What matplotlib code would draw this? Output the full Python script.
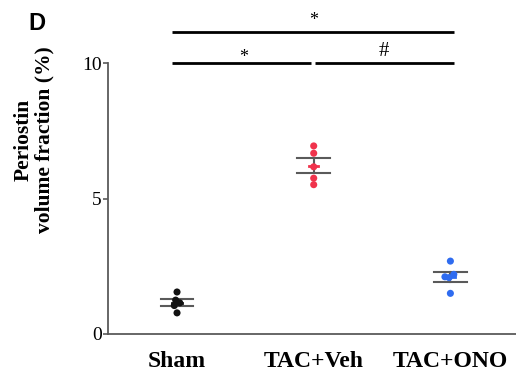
import matplotlib
matplotlib.use("Agg")
import matplotlib.pyplot as plt
import numpy as np

categories = ["Sham", "TAC+Veh", "TAC+ONO"]
sham = [1.55, 1.25, 1.15, 1.05, 0.78]
tac_veh = [6.94, 6.67, 6.17, 5.75, 5.51]
tac_ono = [2.69, 2.20, 2.11, 2.08, 1.50]
groups = [sham, tac_veh, tac_ono]
colors = ["#111111", "#f0334c", "#2f6cf0"]
jitter = [[0.0, -0.01, 0.02, -0.02, 0.0],
          [0.0, 0.0, 0.0, 0.0, 0.0],
          [0.0, 0.025, -0.04, -0.01, 0.0]]
yticks = [0, 5, 10]

plt.rcParams['font.family'] = ['Liberation Serif', 'DejaVu Serif']

fig = plt.figure(figsize=(5.16, 3.77), dpi=100)
ax = fig.add_axes([108/516, (377-334)/377, 408/516, (334-63)/377])

gray = "#5a5a5a"
hw = 0.12
for i, (vals, c, jit) in enumerate(zip(groups, colors, jitter)):
    vals = np.array(vals)
    m = vals.mean()
    sem = vals.std(ddof=1) / np.sqrt(len(vals))
    ax.plot([i - hw, i + hw], [m + sem, m + sem], color=gray, lw=1.5, zorder=2)
    ax.plot([i - hw, i + hw], [m - sem, m - sem], color=gray, lw=1.5, zorder=2)
    ax.plot([i, i], [m - sem, m + sem], color=gray, lw=1.5, zorder=2)
    ax.plot([i - 0.035, i + 0.035], [m, m], color=c, lw=2, zorder=3)
    ax.scatter(i + np.array(jit), vals, s=26, color=c, zorder=4, edgecolors='none')

ax.set_xlim(-0.505, 2.48)
ax.set_ylim(0, 10)
ax.set_yticks(yticks)
ax.set_yticklabels([str(t) for t in yticks], fontsize=14)
ax.set_xticks(range(len(categories)))
ax.set_xticklabels(categories, fontsize=17, fontweight='bold')
ax.tick_params(axis='x', length=0, pad=12)
ax.tick_params(axis='y', length=3.5, width=1.2, color=gray, pad=1)
for s in ['top', 'right']:
    ax.spines[s].set_visible(False)
for s in ['left', 'bottom']:
    ax.spines[s].set_color(gray)
    ax.spines[s].set_linewidth(1.3)

fig.text(0.066, (377-140)/377, "Periostin\nvolume fraction (%)", rotation=90,
         ha='center', va='center', fontsize=15.5, fontweight='bold', linespacing=1.1)

# significance brackets
blw = 2.0
ax.plot([-0.037, 2.03], [11.14, 11.14], color='black', lw=blw, clip_on=False, solid_capstyle='butt')
ax.plot([-0.037, 0.98], [10.01, 10.01], color='black', lw=blw, clip_on=False, solid_capstyle='butt')
ax.plot([1.01, 2.03], [10.01, 10.01], color='black', lw=blw, clip_on=False, solid_capstyle='butt')
ax.text(0.996, 11.57, "*", ha='center', va='center', fontsize=13)
ax.text(0.484, 10.19, "*", ha='center', va='center', fontsize=13)
ax.text(1.516, 10.42, "#", ha='center', va='center', fontsize=15)

fig.text(37/516, 1 - 24/377, "D", ha='center', va='center', fontsize=17,
         fontweight='bold', family='Liberation Sans')

fig.savefig("out.png", dpi=100)
